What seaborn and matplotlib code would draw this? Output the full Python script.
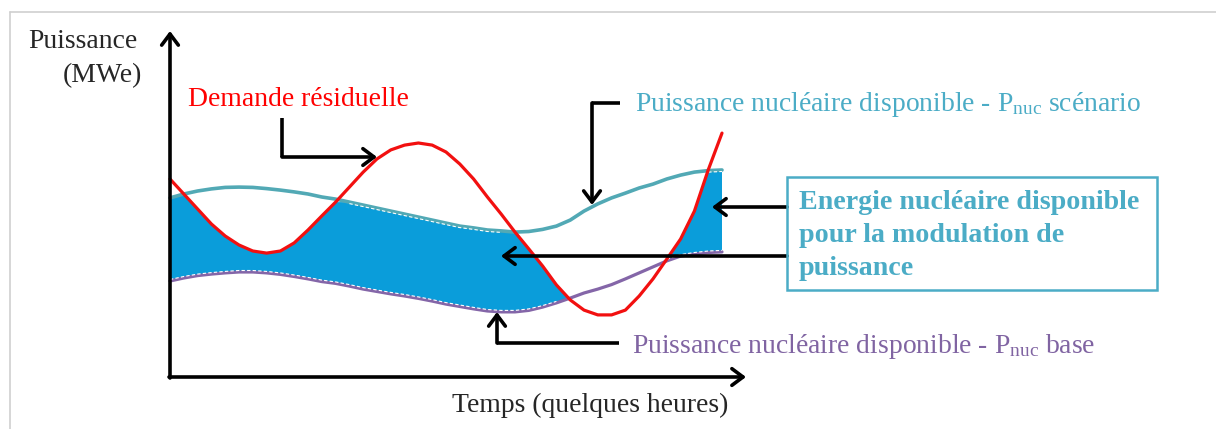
import numpy as np
import pandas as pd
import seaborn as sns
import matplotlib.pyplot as plt
from matplotlib.lines import Line2D
from matplotlib.patches import Rectangle

sns.set_theme(style="white")
plt.rcParams["font.family"] = ["Liberation Serif", "DejaVu Serif"]
plt.rcParams["mathtext.fontset"] = "stix"
plt.rcParams["lines.solid_joinstyle"] = "round"

# schematic time axis (hours) and power (arbitrary MWe units)
temps = [0.0, 0.25, 0.5, 0.75, 1.0, 1.25, 1.5, 1.75, 2.0, 2.25, 2.5, 2.75, 3.0,
         3.25, 3.5, 3.75, 4.0, 4.25, 4.5, 4.75, 5.0, 5.25, 5.5, 5.75, 6.0, 6.25,
         6.5, 6.75, 7.0, 7.25, 7.5, 7.75, 8.0, 8.25, 8.5, 8.75, 9.0, 9.25, 9.5,
         9.75, 10.0]
demande = [66.0, 61.0, 56.0, 51.0, 47.0, 44.0, 42.0, 41.3, 42.0, 44.7, 49.0,
           53.7, 58.3, 63.3, 68.3, 72.7, 75.7, 77.3, 78.0, 77.3, 75.0, 71.0,
           66.0, 60.0, 54.3, 48.3, 42.7, 37.0, 30.7, 25.7, 22.3, 20.7, 20.7,
           22.3, 27.0, 32.7, 39.3, 46.0, 55.3, 69.0, 81.3]
p_scenario = [59.7, 61.0, 62.0, 62.7, 63.2, 63.3, 63.2, 62.8, 62.3, 61.7, 61.0,
              60.0, 59.3, 58.3, 57.3, 56.3, 55.3, 54.3, 53.3, 52.3, 51.3, 50.3,
              49.7, 49.0, 48.7, 48.3, 48.5, 49.2, 50.3, 52.3, 55.3, 57.7, 59.7,
              61.3, 63.0, 64.3, 66.0, 67.3, 68.3, 68.8, 69.0]
p_base = [32.0, 33.0, 33.8, 34.3, 34.7, 35.0, 35.0, 34.7, 34.2, 33.5, 32.7,
          31.8, 31.2, 30.3, 29.3, 28.5, 27.7, 27.0, 26.2, 25.3, 24.3, 23.5,
          22.7, 22.0, 21.7, 21.7, 22.2, 23.3, 24.7, 26.3, 28.0, 29.3, 30.8,
          32.7, 34.7, 36.7, 38.7, 40.3, 41.0, 41.5, 41.7]

ROUGE = "#F21010"
TURQ = "#52A9B5"
TURQ_TXT = "#4BACC6"
VIOLET = "#8466A8"
VIOLET_TXT = "#8064A2"
BLEU = "#0A9DDA"

W, H = 1216, 429


def fp(px, py):
    # pixel position (from top-left) -> figure fraction
    return (px / W, 1 - py / H)


df = pd.DataFrame({"temps": temps, "demande": demande,
                   "p_scenario": p_scenario, "p_base": p_base})
t = df["temps"].to_numpy()
dem = df["demande"].to_numpy()
scen = df["p_scenario"].to_numpy()
base = df["p_base"].to_numpy()

fig = plt.figure(figsize=(W / 100, H / 100), dpi=100)
ax = fig.add_axes([0, 0, 1, 1])

# energie disponible pour la modulation
ax.fill_between(t, base, np.minimum(scen, dem), where=dem > base,
                interpolate=True, color=BLEU, lw=0, zorder=1)

sns.lineplot(data=df, x="temps", y="p_scenario", color=TURQ, lw=2.6,
             errorbar=None, ax=ax, zorder=2)
sns.lineplot(data=df, x="temps", y="p_base", color=VIOLET, lw=2.3,
             errorbar=None, ax=ax, zorder=2)

# liseré blanc pointillé au bord de la zone bleue
ax.plot(t, np.where(dem > scen, scen - 0.5, np.nan), color="white", lw=0.8,
        ls=(0, (3, 2)), zorder=3)
ax.plot(t, np.where(dem > base, base + 0.5, np.nan), color="white", lw=0.8,
        ls=(0, (3, 2)), zorder=3)

sns.lineplot(data=df, x="temps", y="demande", color=ROUGE, lw=2.3,
             errorbar=None, ax=ax, zorder=4)

ax.set_xlim(-170 / 55.2, 1046 / 55.2)
ax.set_ylim(-52 / 3, 377 / 3)
ax.axis("off")

# cadre gris
fig.add_artist(Line2D([10 / W, 1], [1 - 12 / H] * 2, color="#cfcfcf", lw=1.2))
fig.add_artist(Line2D([10 / W] * 2, [1 - 12 / H, 0], color="#cfcfcf", lw=1.2))

arrow = dict(arrowstyle="->,head_length=0.4,head_width=0.3", lw=2.6,
             color="black", mutation_scale=20, shrinkA=0, shrinkB=0)

# axes
ax.annotate("", xy=fp(170, 31), xytext=fp(170, 378), xycoords="figure fraction",
            textcoords="figure fraction", arrowprops=arrow, zorder=6)
ax.annotate("", xy=fp(746, 377), xytext=fp(169, 377), xycoords="figure fraction",
            textcoords="figure fraction", arrowprops=arrow, zorder=6)


def pointer(points):
    pts = [fp(*p) for p in points]
    if len(pts) > 2:
        fig.add_artist(Line2D([p[0] for p in pts[:-1]], [p[1] for p in pts[:-1]],
                              color="black", lw=2.6, solid_joinstyle="miter",
                              solid_capstyle="butt", zorder=6))
    ax.annotate("", xy=pts[-1], xytext=pts[-2], xycoords="figure fraction",
                textcoords="figure fraction", arrowprops=arrow, zorder=6)


pointer([(282, 118), (282, 157), (377, 157)])
pointer([(620, 103), (592, 103), (592, 205)])
pointer([(619, 343), (497, 343), (497, 312)])
pointer([(787, 207), (712, 207)])
pointer([(787, 256), (501, 256)])

fs = 19.9
fig.text(*fp(28, 48), "Puissance", fontsize=fs, va="baseline", ha="left")
fig.text(*fp(142, 82), "(MWe)", fontsize=fs, va="baseline", ha="right")
fig.text(*fp(188, 106), "Demande résiduelle", fontsize=fs, color="#FF0000",
         va="baseline")
fig.text(*fp(635, 111), r"Puissance nucléaire disponible - $\mathregular{P_{nuc}}$ scénario",
         fontsize=fs, color=TURQ_TXT, va="baseline")
fig.text(*fp(632, 353), r"Puissance nucléaire disponible - $\mathregular{P_{nuc}}$ base",
         fontsize=fs, color=VIOLET_TXT, va="baseline")
fig.text(*fp(452, 412), "Temps (quelques heures)", fontsize=fs, va="baseline")

# encadré
x0, y0 = fp(787, 290)
x1, y1 = fp(1157, 177)
fig.add_artist(Rectangle((x0, y0), x1 - x0, y1 - y0, fill=False,
                         ec=TURQ_TXT, lw=1.8, transform=fig.transFigure))
box_lines = ["Energie nucléaire disponible", "pour la modulation de", "puissance"]
for line, yb in zip(box_lines, [209, 242, 275]):
    fig.text(*fp(799, yb), line, fontsize=20.2, fontweight="bold",
             color=TURQ_TXT, va="baseline")

fig.savefig("out.png", dpi=100)
